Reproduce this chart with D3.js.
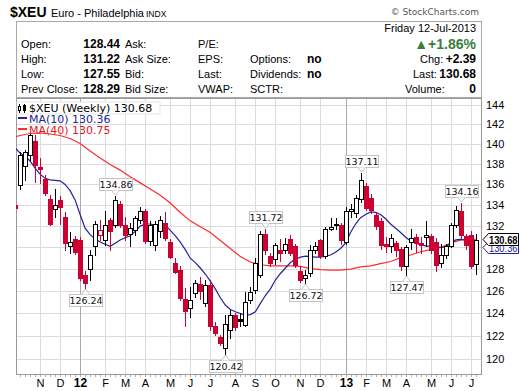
<!DOCTYPE html>
<html><head><meta charset="utf-8">
<script src="https://cdn.jsdelivr.net/npm/d3@7"></script>
<style>body{margin:0;background:#fff}svg{display:block}</style>
</head><body><svg id="c" width="520" height="391"></svg>
<script>
// Weekly candles, first week (index -1) starts Monday 2011-10-03
const firstWeek = new Date(2011, 9, 3);
const opens  = [134.0,135.9,137.8,138.9,140.3,137.7,136.5,134.6,133.6,134.5,132.9,130.1,130.8,130.7,127.5,128.0,130.1,131.2,130.7,132.6,132.1,134.1,132.1,131.3,131.6,132.6,133.4,130.6,130.2,131.5,132.3,130.5,128.6,127.9,125.3,124.5,125.8,126.6,124.9,126.56,122.9,121.9,121.0,122.5,123.9,123.5,123.0,125.2,126.1,127.5,131.3,129.2,128.9,129.8,129.8,130.8,130.1,127.8,127.2,127.6,129.8,130.7,129.2,131.7,132.1,132.1,130.5,133.4,133.2,134.6,135.8,134.7,133.1,132.5,130.3,130.1,130.4,129.9,128.3,130.5,131.0,130.4,131.0,131.1,130.5,128.6,129.3,130.1,132.1,133.4,131.1,131.2,128.44];
const highs  = [134.5,139.2,139.4,141.0,140.9,138.6,136.9,135.0,135.6,134.9,133.3,131.4,131.1,131.0,127.8,129.8,132.5,132.6,133.4,132.8,134.86,134.4,132.9,132.3,133.0,133.8,133.6,132.5,132.5,133.0,133.3,130.8,129.0,128.3,126.3,126.4,127.0,127.3,127.0,127.0,123.2,122.1,123.9,124.3,124.0,124.0,125.9,126.4,129.0,131.5,131.72,129.5,130.4,130.8,130.9,131.2,130.3,128.3,127.9,130.2,130.5,130.8,131.9,132.8,132.8,132.3,133.8,134.1,135.0,137.11,136.1,135.1,133.3,132.8,131.0,131.3,130.6,130.0,130.2,131.7,131.3,131.0,132.5,131.3,130.9,130.3,130.3,132.3,133.9,134.16,131.3,131.5,131.22];
const lows   = [131.5,135.6,136.4,138.4,136.2,136.1,135.0,132.1,132.9,132.2,129.8,129.5,129.4,127.0,126.24,127.0,129.3,130.7,130.2,129.8,131.9,131.9,130.7,130.1,131.2,132.3,130.4,130.2,129.8,131.0,130.7,129.0,127.6,125.2,122.9,123.7,125.5,125.3,124.7,122.5,122.1,121.2,120.42,121.8,122.5,122.9,122.9,124.9,125.8,127.3,129.4,128.3,128.5,128.7,129.5,129.3,128.2,126.8,126.72,127.4,129.5,129.0,129.0,131.6,131.7,130.3,130.3,132.9,132.9,134.3,133.5,133.2,131.7,129.9,129.6,129.6,129.2,127.9,127.47,129.9,129.6,129.5,130.1,129.5,127.8,128.2,129.0,130.0,131.9,130.9,129.9,128.1,127.55];
const closes = [133.7,138.9,139.2,140.9,137.9,137.5,135.2,132.2,134.0,133.8,130.4,130.5,129.6,127.2,126.7,129.3,132.2,131.6,132.1,131.5,134.5,132.1,131.2,131.8,132.8,133.4,130.6,132.1,132.2,132.6,130.9,129.1,127.7,125.4,124.2,125.2,126.7,126.0,126.56,122.9,122.3,121.4,123.1,123.9,122.8,123.3,125.0,125.9,128.6,131.3,129.8,128.6,130.2,129.5,130.3,129.5,128.4,127.0,127.5,129.8,130.1,129.2,131.7,131.95,132.2,130.7,133.4,133.6,134.7,136.4,133.7,133.5,132.0,130.2,130.1,130.9,129.8,128.3,130.0,130.9,130.4,130.2,131.2,129.8,128.4,129.3,130.1,132.1,133.5,131.2,130.2,128.29,130.68];

// Moving averages (week index, value)
const ma10Weeks = [-1,0,1,2,3,4,5,6,7,8,9,10,11,12,13,14,15,16,17,18,19,20,21,22,23,24,25,26,27,28,29,30,31,32,33,34,35,36,37,38,39,40,41,42,43,44,45,46,47,48,49,50,51,52,53,54,55,56,57,58,59,60,61,62,63,64,65,66,67,68,69,70,71,72,73,74,75,76,77,78,79,80,81,82,83,84,85,86,87,88,89,90,91];
const ma10Vals  = [139.6,139.1,138.8,138.3,137.6,137.0,136.6,136.45,136.4,136.35,136.0,135.4,134.5,133.1,131.8,131.2,130.8,130.5,130.3,130.1,130.4,130.7,130.9,131.1,131.5,132.0,132.2,132.2,132.1,132.1,132.1,131.6,131.1,130.5,129.8,129.0,128.6,128.1,127.55,126.9,126.2,125.4,124.75,124.35,124.15,124.0,123.85,123.9,124.15,124.9,125.6,126.2,127.0,127.6,128.1,128.6,128.9,129.1,129.2,129.15,129.1,129.1,129.2,129.3,129.55,129.9,130.4,131.4,132.2,132.8,133.1,133.35,133.3,133.1,132.7,132.2,131.8,131.4,130.95,130.6,130.4,130.25,130.15,130.1,130.05,130.0,130.05,130.4,130.7,130.75,130.7,130.55,130.36];
const ma40Weeks = [-1,0,2,4,6,8,10,12,14,16,18,20,22,24,26,28,30,32,34,36,38,40,42,44,46,48,50,52,54,56,58,60,62,64,66,68,70,72,74,76,78,80,82,84,86,88,90,91];
const ma40Vals  = [140.7,140.85,141.05,141.1,141.0,140.85,140.55,140.05,139.3,138.6,137.95,137.4,136.75,136.15,135.55,134.95,134.2,133.3,132.5,131.95,131.4,130.65,129.9,129.15,128.65,128.4,128.3,128.3,128.3,128.25,128.05,127.95,127.9,127.9,128.0,128.2,128.3,128.5,128.7,129.05,129.3,129.6,129.8,130.0,130.4,130.7,130.7,130.75];

const yTicks = [120,122,124,126,128,130,132,134,136,138,140,142,144];
const monthLabels = ["N","D","12","F","M","A","M","J","J","A","S","O","N","D","13","F","M","A","M","J","J"];
const swingWeeks = [19,13,41,49,57,68,77,88];
const swingKinds = ["high","low","low","high","low","high","low","high"];

const headerRows = [
  ["Open:","128.44","Ask:","P/E:","",""],
  ["High:","131.22","Ask Size:","EPS:","Options:","no"],
  ["Low:","127.55","Bid:","Last:","Dividends:","no"],
  ["Prev Close:","128.29","Bid Size:","VWAP:","SCTR:",""]
];
const rightRows = [["Chg:","+2.39"],["Last:","130.68"],["Volume:","0"]];

const svg = d3.select("#c");
const L=16,R=482,T=98,B=374;
const AR="Liberation Sans, Arial, sans-serif";
const DV="DejaVu Sans, Verdana, sans-serif";
const RED="#cc0033", BLUE="#23239b", MARED="#ff2b2b";

svg.append("rect").attr("width",520).attr("height",391).attr("fill","#fff");

// Title
svg.append("text").attr("x",10).attr("y",17).attr("font-family",AR).attr("font-weight","bold").attr("font-size",14).text("$XEU");
svg.append("text").attr("x",51).attr("y",17).attr("font-family",AR).attr("font-size",11).text("Euro - Philadelphia");
svg.append("text").attr("x",146).attr("y",17).attr("font-family",AR).attr("font-size",8.5).text("INDX");
svg.append("text").attr("x",479).attr("y",15).attr("text-anchor","end").attr("font-family",DV).attr("font-size",9).attr("fill","#555").text("© StockCharts.com");

// header box
svg.append("rect").attr("x",16.5).attr("y",21.5).attr("width",465).attr("height",76).attr("fill","#fff").attr("stroke","#a8a8a8");
const rowY=[48,63,78,93];
headerRows.forEach((r,j)=>{
  const y=rowY[j];
  const t=(x,s,b,anchor)=>svg.append("text").attr("x",x).attr("y",y).attr("font-family",AR).attr("font-size",b?12:11).attr("font-weight",b?"bold":"normal").attr("text-anchor",anchor||"start").text(s);
  t(21,r[0]); t(120,r[1],true,"end"); t(125,r[2]); t(198,r[3]); t(250,r[4]); t(307,r[5],true);
});
svg.append("text").attr("x",476).attr("y",32).attr("text-anchor","end").attr("font-family",AR).attr("font-size",11).text("Friday  12-Jul-2013");
svg.append("text").attr("x",476).attr("y",49).attr("text-anchor","end").attr("font-family",AR).attr("font-size",14).attr("font-weight","bold").attr("fill","#3a7d3a").text("▲+1.86%");
rightRows.forEach((r,j)=>{
  const y=rowY[j+1];
  const lx=[420,413,405][j];
  svg.append("text").attr("x",lx).attr("y",y).attr("font-family",AR).attr("font-size",11).text(r[0]);
  svg.append("text").attr("x",476).attr("y",y).attr("text-anchor","end").attr("font-family",AR).attr("font-size",12).attr("font-weight","bold").text(r[1]);
});

// scales
const x = d3.scaleLinear().domain([-0.8,92.25]).range([L,R]);
const y = d3.scaleLog().domain([118.74,144.68]).range([B,T]);
const dates = opens.map((_,k)=>d3.timeDay.offset(firstWeek,7*k));
const ticks=[];
for(let k=1;k<dates.length;k++) if(dates[k].getMonth()!==dates[k-1].getMonth()) ticks.push(k-1);

const g = svg.append("g");
g.append("defs").append("clipPath").attr("id","clip").append("rect").attr("x",L).attr("y",T).attr("width",R-L).attr("height",B-T);

// grid
yTicks.forEach(v=>{
  const yy=Math.round(y(v))+0.5;
  g.append("line").attr("x1",L).attr("x2",R).attr("y1",yy).attr("y2",yy).attr("stroke","#dcdcdc");
});
ticks.forEach((i,n)=>{
  const xx=Math.round(x(i))+0.5;
  const yr=/^\d+$/.test(monthLabels[n]);
  g.append("line").attr("x1",xx).attr("x2",xx).attr("y1",T).attr("y2",B).attr("stroke",yr?"#a9a9a9":"#dcdcdc");
  svg.append("text").attr("x",xx).attr("y",387).attr("text-anchor","middle").attr("font-family",AR)
    .attr("font-size",yr?12:11).attr("font-weight",yr?"bold":"normal").text(monthLabels[n]);
});

// frame
g.append("rect").attr("x",L+0.5).attr("y",T+0.5).attr("width",R-L-1).attr("height",B-T).attr("fill","none").attr("stroke","#9a9a9a");
// weekly ticks on bottom
opens.forEach((_,k)=>{
  const i=k-1; const xx=Math.round(x(i))+0.5;
  if(xx>L && xx<R) svg.append("line").attr("x1",xx).attr("x2",xx).attr("y1",B+1).attr("y2",B+3).attr("stroke","#b0b0b0");
});
// y labels (the 130 label sits under the last-price tag, as in the original)
yTicks.filter(v=>v!==130).forEach(v=>{
  svg.append("text").attr("x",486).attr("y",y(v)+4).attr("font-family",AR).attr("font-size",11).text(v);
});

const pg = g.append("g").attr("clip-path","url(#clip)");

// MA lines
const lineGen = d3.line().x(d=>x(d[0])).y(d=>y(d[1]));
pg.append("path").datum(ma40Weeks.map((w,j)=>[w,ma40Vals[j]])).attr("d",lineGen).attr("fill","none").attr("stroke",MARED).attr("stroke-width",1.2);
pg.append("path").datum(ma10Weeks.map((w,j)=>[w,ma10Vals[j]])).attr("d",lineGen).attr("fill","none").attr("stroke",BLUE).attr("stroke-width",1.2);

// candles
opens.forEach((o,k)=>{
  const i=k-1, c=closes[k], h=highs[k], l=lows[k];
  const prev = k>0?closes[k-1]:c+1;
  const col = c<prev?RED:"#000";
  const cx=Math.round(x(i))+0.5;
  pg.append("line").attr("x1",cx).attr("x2",cx).attr("y1",Math.round(y(h))).attr("y2",Math.round(y(l))+1).attr("stroke",col);
  const yt=Math.round(y(Math.max(o,c))), yb=Math.round(y(Math.min(o,c)));
  if(c<o){
    pg.append("rect").attr("x",cx-2.5).attr("y",yt).attr("width",5).attr("height",Math.max(2,yb-yt+1)).attr("fill",col);
  } else {
    pg.append("rect").attr("x",cx-2).attr("y",yt+0.5).attr("width",4).attr("height",Math.max(1,yb-yt)).attr("fill","#fff").attr("stroke",col);
  }
});

// swing labels
swingWeeks.forEach((w,n)=>{
  const k=w+1, hi=swingKinds[n]==="high";
  const v=hi?highs[k]:lows[k];
  const cx=Math.round(x(w))+0.5, py=y(v);
  const bw=33,bh=12;
  const by= hi? Math.round(py)-6-bh : Math.round(py)+6;
  const tipY = hi? Math.round(py)-1 : Math.round(py)+1;
  const edge = hi? by+bh : by;
  const gg=svg.append("g");
  gg.append("rect").attr("x",Math.round(cx-bw/2)+0.5).attr("y",by+0.5).attr("width",bw).attr("height",bh).attr("fill","#fff").attr("stroke","#c4c4c4");
  gg.append("path").attr("d",`M${cx-4},${edge+0.5} L${cx},${tipY} L${cx+4},${edge+0.5}`).attr("fill","#fff").attr("stroke","#c4c4c4");
  gg.append("text").attr("x",cx+0.5).attr("y",by+10).attr("text-anchor","middle").attr("font-family",DV).attr("font-size",9.5).attr("fill","#111").text(v.toFixed(2));
});

// legend
const lg=svg.append("g");
lg.append("rect").attr("x",17).attr("y",102).attr("width",143).attr("height",12).attr("fill","#fff").attr("stroke","#e4e4e4");
lg.append("line").attr("x1",19.5).attr("x2",19.5).attr("y1",104).attr("y2",113).attr("stroke","#000");
lg.append("rect").attr("x",18.5).attr("y",106.5).attr("width",2).attr("height",4).attr("fill","#fff").attr("stroke","#000");
lg.append("line").attr("x1",24.5).attr("x2",24.5).attr("y1",104).attr("y2",113).attr("stroke","#000");
lg.append("rect").attr("x",23).attr("y",105).attr("width",3).attr("height",6).attr("fill","#000");
lg.append("text").attr("x",29).attr("y",112).attr("font-family",DV).attr("font-size",11).text("$XEU (Weekly) 130.68");
lg.append("rect").attr("x",18).attr("y",117).attr("width",9).attr("height",2).attr("fill",BLUE);
lg.append("text").attr("x",29).attr("y",122.5).attr("font-family",DV).attr("font-size",11).attr("fill",BLUE).text("MA(10) 130.36");
lg.append("rect").attr("x",18).attr("y",128).attr("width",9).attr("height",2).attr("fill",MARED);
lg.append("text").attr("x",29).attr("y",133.5).attr("font-family",DV).attr("font-size",11).attr("fill","#e8141e").text("MA(40) 130.75");

// right price tags (MA(10) tag partly hidden behind the last-price tag)
const tag=(yy,stroke,bold,txt,fs)=>{
  const t=svg.append("g");
  t.append("path").attr("d",`M483,${yy} L488.5,${yy-6} L518.5,${yy-6} L518.5,${yy+6} L488.5,${yy+6} Z`).attr("fill","#fff").attr("stroke",stroke);
  t.append("text").attr("x",489).attr("y",yy+4).attr("font-family",AR).attr("font-size",fs).attr("font-weight",bold?"bold":"normal")
    .attr("fill",stroke).attr("textLength",28.5).attr("lengthAdjust","spacingAndGlyphs").text(txt);
};
tag(Math.round(y(130.36))+0.5+3,BLUE,false,"130.36",10);
tag(Math.round(y(130.68))+0.5-1,"#000",true,"130.68",11);
</script></body></html>
